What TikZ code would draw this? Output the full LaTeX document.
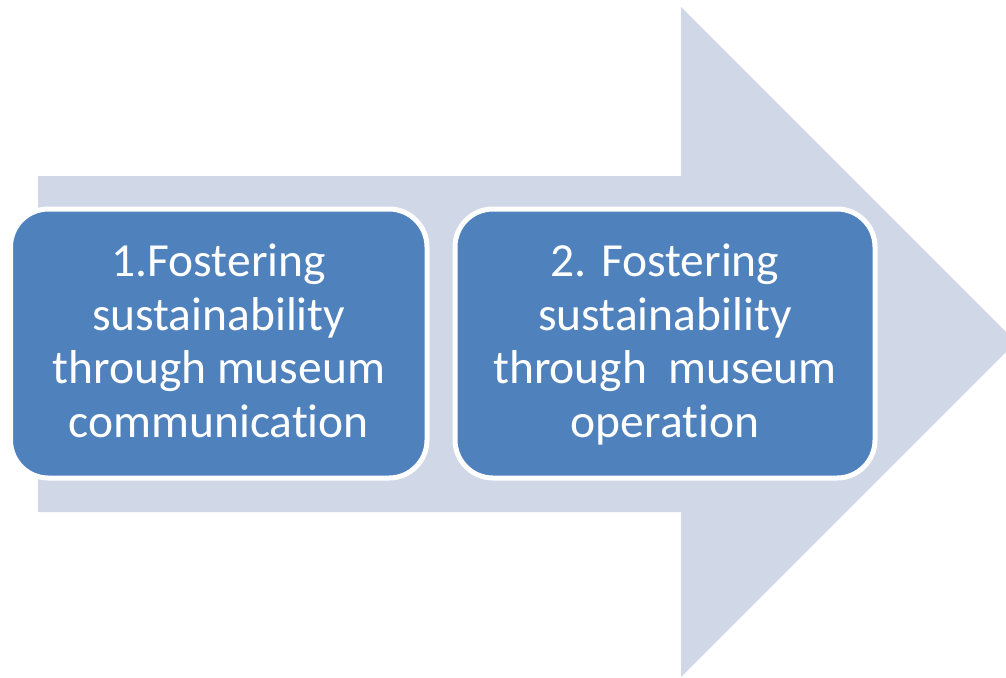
\documentclass[tikz,border=0pt]{standalone}
\usepackage{fontspec}
\setmainfont[Ligatures={NoCommon}]{Carlito}
\definecolor{arrowfill}{HTML}{D0D8E8}
\definecolor{boxblue}{HTML}{4F81BD}
\begin{document}
\begin{tikzpicture}[x=1pt,y=1pt,
  stagebox/.style={draw=white, line width=5pt, fill=boxblue, rounded corners=38pt, inner sep=0pt, minimum height=269pt},
  stagetext/.style={text=white, align=center, inner sep=0pt, font=\fontsize{47.5}{53.5}\selectfont}]
\useasboundingbox (0,0) rectangle (1006,-677);
\clip (0,0) rectangle (1006,-677);
\fill[arrowfill] (38,-176) -- (681,-176) -- (681,-7) -- (1016,-342) -- (681,-677) -- (681,-512) -- (38,-512) -- cycle;
\node[stagebox, minimum width=416.5pt] (b1) at (218.75,-343.5) {};
\node[stagebox, minimum width=420pt] (b2) at (665,-343.5) {};
\node[stagetext] (t1) at ([yshift=-3pt]b1.center) {\strut 1.Fostering\\sustainability\\through museum\\communication\strut};
\node[stagetext] (t2) at ([yshift=-3pt]b2.center) {\strut 2. Fostering\\sustainability\\through\ \ museum\\operation\strut};
\end{tikzpicture}
\end{document}
